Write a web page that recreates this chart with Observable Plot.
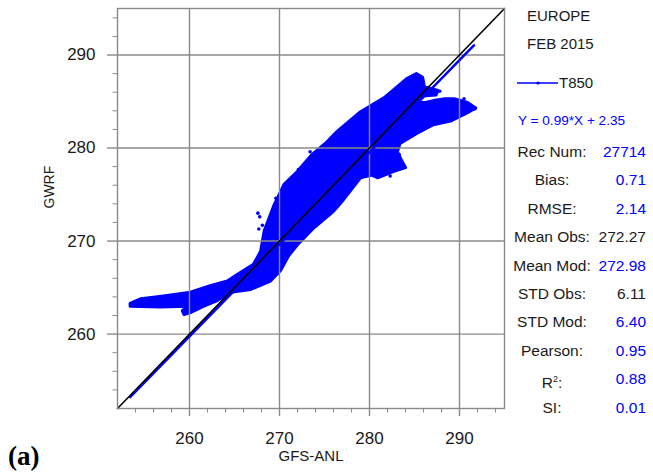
<!DOCTYPE html>
<html>
<head>
<meta charset="utf-8">
<script src="https://cdn.jsdelivr.net/npm/d3@7"></script>
<script src="https://cdn.jsdelivr.net/npm/@observablehq/plot@0.6"></script>
<style>
  body { margin: 0; background: #fff; font-family: "Liberation Sans", Arial, sans-serif; }
  #wrap { position: relative; width: 653px; height: 472px; overflow: hidden; background: #fff; }
  #wrap svg.plot { position: absolute; left: 0; top: 0; }
  .txt { position: absolute; white-space: nowrap; color: #1a1a1a; }
  .lab { position: absolute; left: 500px; width: 104px; text-align: center; font-size: 15.5px; line-height: 20px; color: #1a1a1a; white-space: nowrap; }
  .val { position: absolute; left: 586px; width: 60px; text-align: right; font-size: 15.5px; line-height: 20px; white-space: nowrap; }
  sup { font-size: 9px; vertical-align: 6px; }
</style>
</head>
<body>
<div id="wrap"></div>
<script>
// T850 scatter: GWRF model vs GFS analysis, Europe, February 2015
const axisRange = [252, 295];
const majorTicks = [260, 270, 280, 290];
const minorTicks = [254, 256, 258, 262, 264, 266, 268, 272, 274, 276, 278, 282, 284, 286, 288, 292, 294];

// outline of the dense point cloud (GFS-ANL, GWRF)
const cloudOutline = [
  [253.4, 263.3], [254.6, 263.8], [257.1, 264.1], [260.1, 264.5], [262.3, 265.2],
  [264.2, 265.7], [265.3, 266.4], [267.1, 267.5], [267.9, 268.9], [268.3, 271.1],
  [269.4, 273.9], [270.5, 276.1], [272.0, 277.5], [273.6, 279.3], [275.3, 280.7],
  [276.4, 281.8], [279.0, 283.9], [281.6, 285.4], [284.2, 287.5], [285.2, 288.0],
  [285.9, 287.6], [286.1, 286.6], [287.6, 286.2], [287.4, 285.7], [285.9, 285.6],
  [285.4, 284.9], [286.2, 284.9], [287.1, 285.1], [288.4, 285.3], [289.4, 285.3],
  [290.9, 284.9], [291.8, 284.3], [290.9, 283.8], [289.0, 282.9], [287.1, 282.5],
  [285.3, 281.6], [283.4, 280.5], [283.1, 279.6], [283.6, 278.6], [284.0, 277.9],
  [282.7, 277.5], [280.9, 276.8], [280.3, 277.1], [279.0, 276.8], [276.9, 274.2],
  [276.0, 273.2], [273.8, 271.4], [272.0, 269.6], [271.0, 268.4], [270.1, 266.8],
  [269.7, 266.4], [269.0, 265.7], [266.8, 264.8], [264.6, 264.5], [263.1, 263.6],
  [261.6, 263.0], [260.1, 262.3], [259.4, 262.1], [259.2, 262.5], [259.7, 263.0],
  [256.8, 262.9], [253.4, 263.0]
];

// scattered records along the edges of the cloud
const edgePoints = [
  [267.8, 272.6], [268.1, 271.7], [267.7, 271.3], [267.6, 273.0], [269.6, 274.6],
  [270.2, 275.3], [272.1, 277.7], [273.4, 279.6], [280.5, 277.0], [281.6, 277.9],
  [282.3, 277.0], [282.9, 278.6], [283.3, 279.3], [283.8, 277.9], [291.7, 284.2],
  [290.5, 285.3], [287.8, 286.1]
];

// least-squares fit Y = 0.99*X + 2.35 over the observed range
const fitSlope = 0.99;
const fitIntercept = 2.35;
const fitRange = [253.4, 291.6];

const regionName = "EUROPE";
const periodName = "FEB 2015";
const seriesName = "T850";
const statLabels = ["Rec Num:", "Bias:", "RMSE:", "Mean Obs:", "Mean Mod:", "STD Obs:", "STD Mod:", "Pearson:", "R2:", "SI:"];
const statValues = ["27714", "0.71", "2.14", "272.27", "272.98", "6.11", "6.40", "0.95", "0.88", "0.01"];
const statIsModel = [true, true, true, false, true, false, true, true, true, true];

const blue = "#0000ff";
const gridGray = "#8a8a8a";

const plot = Plot.plot({
  width: 653,
  height: 472,
  marginLeft: 117,
  marginRight: 149,
  marginTop: 8,
  marginBottom: 64,
  x: {domain: axisRange},
  y: {domain: axisRange},
  style: {fontFamily: "'Liberation Sans', Arial, sans-serif", fontSize: "17px", color: "#1a1a1a", background: "transparent"},
  marks: [
    Plot.line(cloudOutline, {x: d => d[0], y: d => d[1], fill: blue, stroke: blue, strokeWidth: 3, strokeLinejoin: "round", curve: "linear-closed"}),
    Plot.dot(edgePoints, {x: d => d[0], y: d => d[1], r: 1.8, fill: blue}),
    Plot.gridX(majorTicks, {stroke: gridGray, strokeOpacity: 1, strokeWidth: 1.4}),
    Plot.gridY(majorTicks, {stroke: gridGray, strokeOpacity: 1, strokeWidth: 1.4}),
    Plot.line(fitRange, {x: d => d, y: d => fitSlope * d + fitIntercept, stroke: blue, strokeWidth: 2.5}),
    Plot.line(axisRange, {x: d => d, y: d => d, stroke: "#000", strokeWidth: 1.6}),
    Plot.frame({stroke: gridGray, strokeWidth: 1.4}),
    Plot.axisX(majorTicks, {tickSize: 8, tickPadding: 15, stroke: gridGray, strokeWidth: 1.4, label: null}),
    Plot.axisX(minorTicks, {tickSize: 4.5, stroke: gridGray, tickFormat: () => "", label: null}),
    Plot.axisY(majorTicks, {tickSize: 10, tickPadding: 12, stroke: gridGray, strokeWidth: 1.4, label: null}),
    Plot.axisY(minorTicks, {tickSize: 4.5, stroke: gridGray, tickFormat: () => "", label: null}),
    Plot.text(["GFS-ANL"], {frameAnchor: "bottom", dy: 52, fontSize: 15, fill: "#1a1a1a"}),
    Plot.text(["GWRF"], {frameAnchor: "left", dx: -68, rotate: -90, fontSize: 14, fill: "#1a1a1a"})
  ]
});
plot.classList.add("plot");

const wrap = document.getElementById("wrap");
wrap.appendChild(plot);

function addText(html, css) {
  const el = document.createElement("div");
  el.className = "txt";
  el.innerHTML = html;
  Object.assign(el.style, css);
  wrap.appendChild(el);
  return el;
}

// side panel: region, period, legend, fit and statistics
addText(regionName, {left: "527px", top: "7px", fontSize: "15px", lineHeight: "18px"});
addText(periodName, {left: "527px", top: "35px", fontSize: "15px", lineHeight: "18px"});
addText(
  `<svg width="42" height="10" style="vertical-align:middle"><line x1="0" y1="5" x2="41" y2="5" stroke="${blue}" stroke-width="1.6"/><circle cx="21" cy="5" r="1.6" fill="${blue}"/></svg>` +
  `<span style="vertical-align:middle">${seriesName}</span>`,
  {left: "517px", top: "72px", fontSize: "15px", lineHeight: "20px"}
);
addText(`Y = ${fitSlope}*X + ${fitIntercept}`, {left: "518px", top: "113px", fontSize: "13.6px", lineHeight: "16px", color: blue});

statLabels.forEach((label, i) => {
  const top = 142 + i * 28.4;
  const l = document.createElement("div");
  l.className = "lab";
  l.style.top = top + "px";
  if (label === "R2:") l.innerHTML = "R<sup>2</sup>:";
  else l.textContent = label;
  wrap.appendChild(l);
  const v = document.createElement("div");
  v.className = "val";
  v.style.top = top + "px";
  v.style.color = statIsModel[i] ? blue : "#1a1a1a";
  v.textContent = statValues[i];
  wrap.appendChild(v);
});

// panel tag
addText("(a)", {left: "8px", top: "440px", fontFamily: "'Liberation Serif', 'Times New Roman', serif", fontWeight: "bold", fontSize: "27px", lineHeight: "32px", color: "#000"});
</script>
</body>
</html>
